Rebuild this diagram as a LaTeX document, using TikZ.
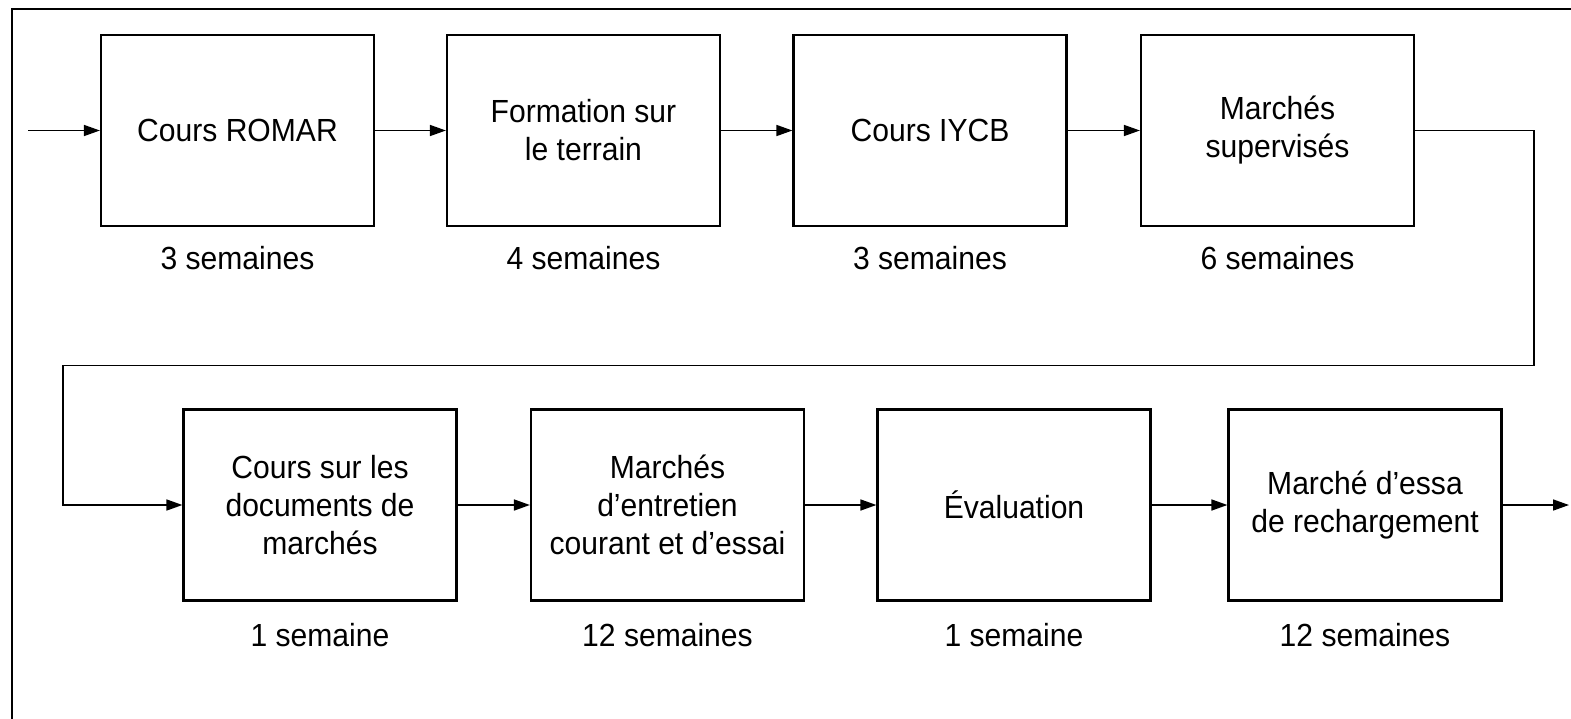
\documentclass[tikz,border=0pt]{standalone}
\usepackage{fontspec}
\setmainfont[FakeStretch=0.94]{Liberation Sans}
\usetikzlibrary{arrows.meta}
\begin{document}
\begin{tikzpicture}[x=1pt,y=-1pt,
  stepbox/.style={draw,line width=2.2pt,minimum width=273pt,minimum height=191pt,inner sep=0pt,align=center,font=\fontsize{32}{38}\selectfont},
  lab/.style={font=\fontsize{32}{38}\selectfont,inner sep=0pt},
  conn/.style={line width=1.6pt,-{Triangle[length=16pt,width=11pt]}}]
\useasboundingbox (0,0) rectangle (1571,718);
\draw[line width=2pt] (11.5,730) -- (11.5,8.5) -- (1580,8.5);
% row 1
\node[stepbox] (b1) at (237.5,130.5) {Cours ROMAR};
\node[stepbox] (b2) at (583.5,130.5) {Formation sur\\le terrain};
\node[stepbox] (b3) at (930,130.5) {Cours IYCB};
\node[stepbox] (b4) at (1277.5,130.5) {Marchés\\supervisés};
% row 2
\node[stepbox] (b5) at (320,505) {Cours sur les\\documents de\\marchés};
\node[stepbox] (b6) at (667.5,505) {Marchés\\d’entretien\\courant et d’essai};
\node[stepbox] (b7) at (1014,505) {Évaluation};
\node[stepbox] (b8) at (1365,505) {Marché d’essa\\de rechargement};
% labels
\node[lab] (l1) at ([yshift=-31pt]b1.south) {3 semaines};
\node[lab] (l2) at ([yshift=-31pt]b2.south) {4 semaines};
\node[lab] (l3) at ([yshift=-31pt]b3.south) {3 semaines};
\node[lab] (l4) at ([yshift=-31pt]b4.south) {6 semaines};
\node[lab] (l5) at ([yshift=-33pt]b5.south) {1 semaine};
\node[lab] (l6) at ([yshift=-33pt]b6.south) {12 semaines};
\node[lab] (l7) at ([yshift=-33pt]b7.south) {1 semaine};
\node[lab] (l8) at ([yshift=-33pt]b8.south) {12 semaines};
% connectors
\coordinate (in) at (28,130.5);
\coordinate (out) at (1569,505);
\draw[conn] (in) -- (b1.west);
\draw[conn] (b1) -- (b2);
\draw[conn] (b2) -- (b3);
\draw[conn] (b3) -- (b4);
\draw[conn] (b4.east) -- (1534,130.5) -- (1534,365.5) -- (63,365.5) -- (63,505) -- (b5.west);
\draw[conn] (b5) -- (b6);
\draw[conn] (b6) -- (b7);
\draw[conn] (b7) -- (b8);
\draw[conn] (b8.east) -- (out);
\end{tikzpicture}
\end{document}
